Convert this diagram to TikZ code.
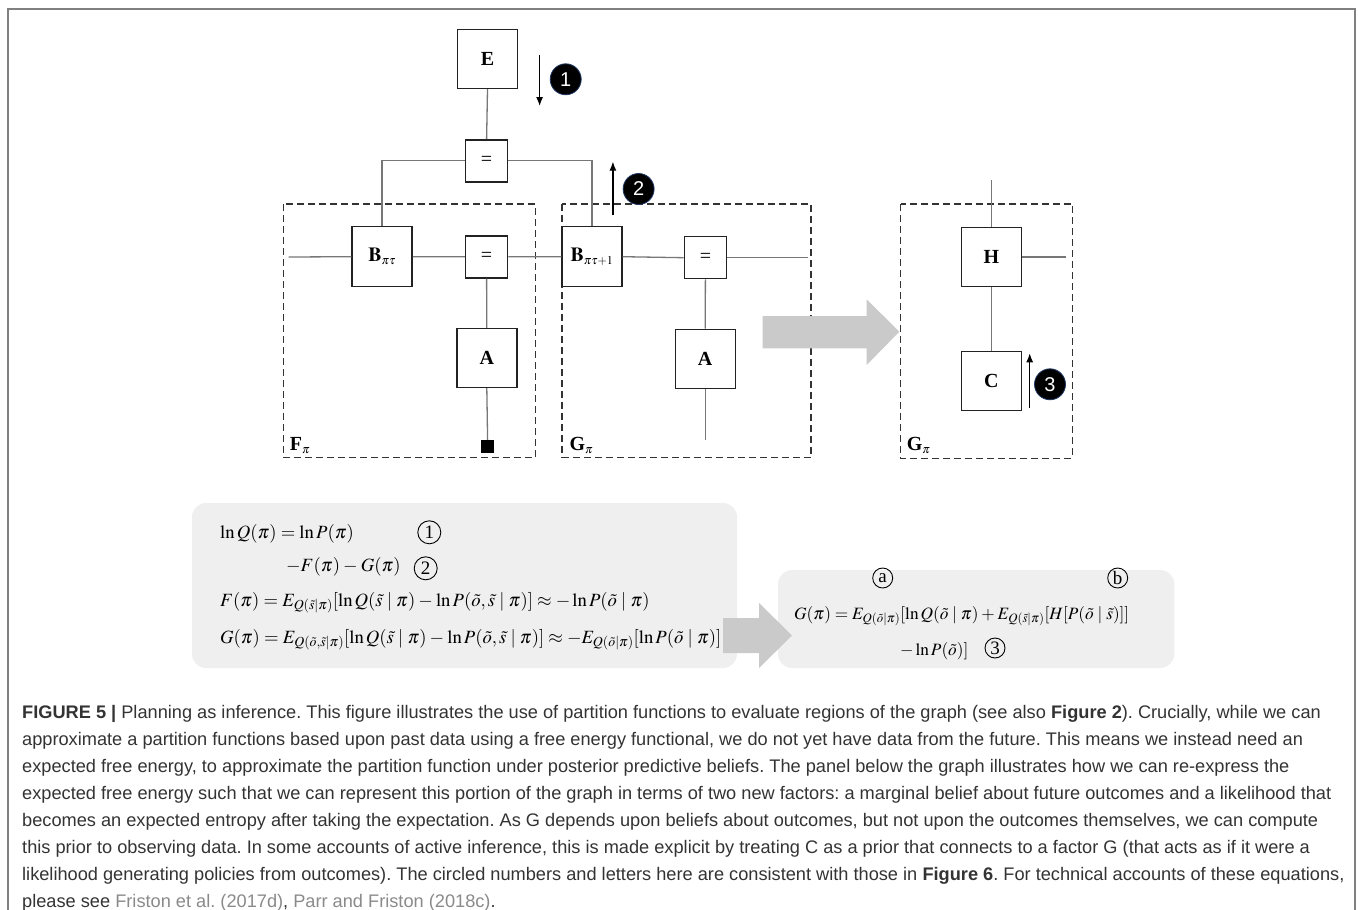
\documentclass[tikz,border=0pt]{standalone}
\usepackage{mathptmx}
\usepackage[no-math]{fontspec}
\setmainfont{Liberation Serif}
\newfontfamily\capfont{Liberation Sans}
\usetikzlibrary{arrows.meta}
\thickmuskip=4mu plus 2mu
\medmuskip=3mu plus 1mu
\frenchspacing
\definecolor{framec}{HTML}{808080}
\definecolor{boxc}{HTML}{222222}
\definecolor{wirec}{HTML}{777777}
\definecolor{dashc}{HTML}{333333}
\definecolor{navyc}{HTML}{1F3864}
\definecolor{blockc}{HTML}{CACACA}
\definecolor{panelc}{HTML}{EFEFEF}
\definecolor{capc}{HTML}{333333}
\definecolor{citec}{HTML}{8A8A8A}
\tikzset{
  fbox/.style={draw=boxc, line width=1.4pt, fill=white, inner sep=0pt,
    minimum width=60pt, minimum height=59pt, font=\fontsize{20}{20}\selectfont\bfseries},
  eqbox/.style={draw=boxc, line width=1.4pt, fill=white, inner sep=0pt,
    minimum width=42pt, minimum height=42pt, font=\fontsize{20}{20}\selectfont},
  wire/.style={draw=wirec, line width=1.3pt},
  dbox/.style={draw=dashc, line width=1.3pt, dash pattern=on 7pt off 4pt},
  badge/.style={circle, fill=black, draw=navyc, line width=0.8pt, minimum size=31pt,
    inner sep=0pt, text=white, font=\capfont\fontsize{20}{20}\selectfont},
  flowarr/.style={draw=black, line width=1.2pt, -{Latex[length=9pt,width=7pt]}},
  circl/.style={circle, draw=black, line width=0.9pt, minimum size=23pt, inner sep=0pt,
    font=\fontsize{19}{19}\selectfont},
  circs/.style={circle, draw=black, line width=0.9pt, minimum size=20pt, inner sep=0pt,
    font=\fontsize{19}{19}\selectfont},
  eqtext/.style={anchor=base west, inner sep=0pt, font=\fontsize{18.7}{23}\selectfont},
  eqtextR/.style={anchor=base west, inner sep=0pt, font=\fontsize{17.3}{21}\selectfont},
  captxt/.style={anchor=base west, inner sep=0pt, font=\capfont\fontsize{18.2}{21}\selectfont, text=capc},
  glabel/.style={anchor=base west, inner sep=0pt, font=\fontsize{20}{20}\selectfont},
  block/.style={fill=blockc, draw=none},
  panel/.style={fill=panelc, draw=none, rounded corners=14pt},
}
\begin{document}
\begin{tikzpicture}[x=1pt,y=-1pt]
\useasboundingbox (0,0) rectangle (1358,910);
% outer frame
\draw[framec, line width=2pt] (8,916) -- (8,9) -- (1355,9) -- (1355,916);

% dashed regions
\draw[dbox] (283.2,204) rectangle (535.4,457.3);
\draw[dbox] (562.1,204) rectangle (811.1,457.3);
\draw[dbox] (900.7,204) rectangle (1072.3,458.3);

% free wire ends
\coordinate (lineL) at (288.6,257);
\coordinate (lineR) at (807.5,257.7);
\coordinate (AGend) at (705.2,440);
\coordinate (Htop) at (991.3,180);
\coordinate (Hright) at (1065.7,257);

% nodes
\node[fbox] (E) at (487.5,59) {E};
\node[eqbox] (eqT) at (486.6,160.8) {=};
\node[fbox, minimum height=60pt] (Bpt) at (382.1,256.7) {$\mathbf{B}_{\scriptscriptstyle \pi\tau}$};
\node[eqbox] (eqF) at (486.6,256.8) {=};
\node[fbox, minimum height=60pt] (Bpt1) at (592,256.7) {$\mathbf{B}_{\scriptscriptstyle \pi\tau+1}$};
\node[eqbox] (eqG) at (705.4,257.7) {=};
\node[fbox] (AF) at (486.8,358) {A};
\node[fbox] (AG) at (705.2,358.8) {A};
\node[fill=black, minimum size=12.5pt, inner sep=0pt] (sq) at (487.6,446.3) {};
\node[fbox] (H) at (991.3,257) {H};
\node[fbox] (C) at (991.3,381.2) {C};

% wires
\draw[wire] (E.south) -- (eqT.north);
\draw[wire] (eqT.west) -| (Bpt.north);
\draw[wire] (eqT.east) -| (Bpt1.north);
\draw[wire] (lineL) -- (Bpt.west);
\draw[wire] (Bpt.east) -- (eqF.west);
\draw[wire] (eqF.east) -- (Bpt1.west);
\draw[wire] (Bpt1.east) -- (eqG.west);
\draw[wire] (eqG.east) -- (lineR);
\draw[wire] (eqF.south) -- (AF.north);
\draw[wire] (AF.south) -- (sq.north);
\draw[wire] (eqG.south) -- (AG.north);
\draw[wire] (AG.south) -- (AGend);
\draw[wire] (Htop) -- (H.north);
\draw[wire] (H.east) -- (Hright);
\draw[wire] (H.south) -- (C.north);

% region labels
\node[glabel] (Fl) at (289.6,450) {\textbf{F}$_{\scriptscriptstyle\pi}$};
\node[glabel] (Gl) at (569.3,450) {\textbf{G}$_{\scriptscriptstyle\pi}$};
\node[glabel] (Gl2) at (906.7,450) {\textbf{G}$_{\scriptscriptstyle\pi}$};

% message arrows and badges
\coordinate (a1s) at (539.6,55);  \coordinate (a1e) at (539.6,106);
\coordinate (a2s) at (612.9,215); \coordinate (a2e) at (612.9,161.7);
\coordinate (a3s) at (1029.7,408.3); \coordinate (a3e) at (1029.7,353.3);
\draw[flowarr] (a1s) -- (a1e);
\draw[flowarr] (a2s) -- (a2e);
\draw[flowarr] (a3s) -- (a3e);
\node[badge] (b1) at (565.7,79.3) {1};
\node[badge] (b2) at (638.6,189) {2};
\node[badge] (b3) at (1050,384.3) {3};

% big grey arrow (graph)
\fill[block] (762.7,316) -- (866.7,316) -- (866.7,299.3) -- (899.3,331.7)
  -- (866.7,365) -- (866.7,348.3) -- (762.7,348.3) -- cycle;

% equation panels
\fill[panel] (192,503) rectangle (737,668);
\fill[panel] (778,570) rectangle (1174.3,668);
\fill[block] (723,618) -- (759,618) -- (759,603) -- (792,635.5)
  -- (759,668) -- (759,653) -- (723,653) -- cycle;

\node[eqtext] (L1) at (220,538) {$\ln Q(\pi) = \ln P(\pi)$};
\node[eqtext] (L2) at (286,571) {$-F(\pi) - G(\pi)$};
\node[eqtext] (L3) at (220,606) {$F(\pi) = E_{Q(\tilde{s}\mid\pi)}[\ln Q(\tilde{s}\mid\pi) - \ln P(\tilde{o},\tilde{s}\mid\pi)] \approx -\ln P(\tilde{o}\mid\pi)$};
\node[eqtext] (L4) at (220,643) {$G(\pi) = E_{Q(\tilde{o},\tilde{s}\mid\pi)}[\ln Q(\tilde{s}\mid\pi) - \ln P(\tilde{o},\tilde{s}\mid\pi)] \approx -E_{Q(\tilde{o}\mid\pi)}[\ln P(\tilde{o}\mid\pi)]$};
\node[circl] (c1) at (429.3,532.3) {1};
\node[circl] (c2) at (425.7,568.3) {2};

\node[eqtextR] (R1) at (794,619) {$G(\pi) = E_{Q(\tilde{o}\mid\pi)}[\ln Q(\tilde{o}\mid\pi) + E_{Q(\tilde{s}\mid\pi)}[H[P(\tilde{o}\mid\tilde{s})]]$};
\node[eqtextR] (R2) at (900,655) {$-\ln P(\tilde{o})]$};
\node[circs] (ca) at (882.7,578) {a};
\node[circs] (cb) at (1117.7,578) {b};
\node[circs] (c3) at (995,648) {3};

% caption
\node[captxt] (t1) at (22,718) {\textbf{FIGURE 5 |} Planning as inference. This figure illustrates the use of partition functions to evaluate regions of the graph (see also \textbf{Figure 2}). Crucially, while we can};
\node[captxt] (t2) at (22,745) {approximate a partition functions based upon past data using a free energy functional, we do not yet have data from the future. This means we instead need an};
\node[captxt] (t3) at (22,772) {expected free energy, to approximate the partition function under posterior predictive beliefs. The panel below the graph illustrates how we can re-express the};
\node[captxt] (t4) at (22,799) {expected free energy such that we can represent this portion of the graph in terms of two new factors: a marginal belief about future outcomes and a likelihood that};
\node[captxt] (t5) at (22,826) {becomes an expected entropy after taking the expectation. As G depends upon beliefs about outcomes, but not upon the outcomes themselves, we can compute};
\node[captxt] (t6) at (22,853) {this prior to observing data. In some accounts of active inference, this is made explicit by treating C as a prior that connects to a factor G (that acts as if it were a};
\node[captxt] (t7) at (22,880) {likelihood generating policies from outcomes). The circled numbers and letters here are consistent with those in \textbf{Figure 6}. For technical accounts of these equations,};
\node[captxt] (t8) at (22,907) {please see {\color{citec}Friston et al. (2017d)}, {\color{citec}Parr and Friston (2018c)}.};
\end{tikzpicture}
\end{document}
